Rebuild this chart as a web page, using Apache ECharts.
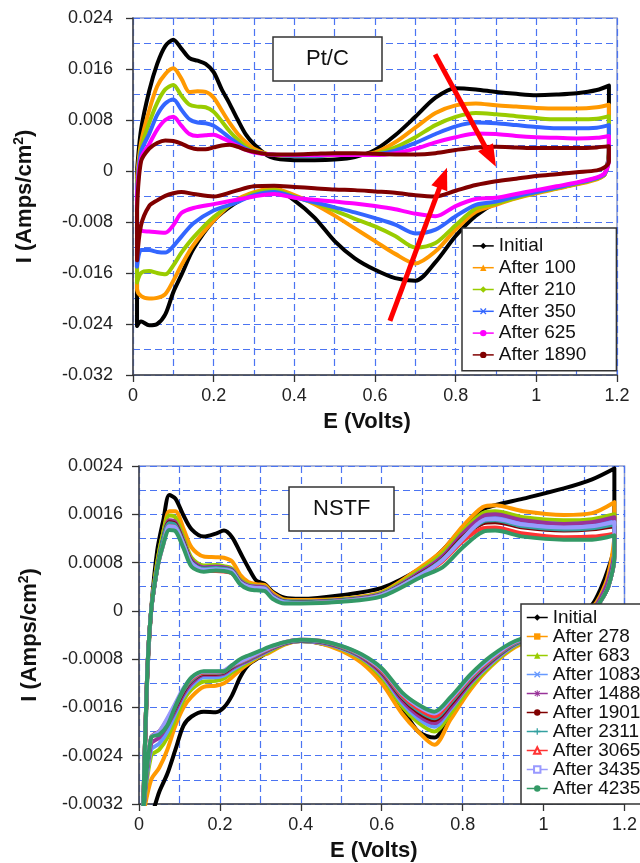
<!DOCTYPE html>
<html><head><meta charset="utf-8">
<script src="https://cdn.jsdelivr.net/npm/echarts@6/dist/echarts.min.js"></script>
<style>html,body{margin:0;padding:0;background:#fff}#c{width:640px;height:863px}</style>
</head><body><div id="c"></div>
<script>
// ---------- Pt/C (top) ----------
const ptE_up = [0.01,0.02,0.04,0.06,0.08,0.1,0.12,0.14,0.16,0.18,0.2,0.22,0.24,0.26,0.28,0.3,0.34,0.4,0.45,0.5,0.55,0.6,0.65,0.7,0.75,0.8,0.85,0.9,0.95,1.0,1.05,1.1,1.15,1.18];
const ptE_dn = [1.18,1.17,1.15,1.1,1.05,1.0,0.95,0.9,0.85,0.8,0.75,0.7,0.65,0.6,0.55,0.5,0.45,0.4,0.35,0.3,0.25,0.2,0.15,0.12,0.1,0.08,0.06,0.04,0.02,0.01];
const ptNames = ["Initial","After 100","After 210","After 350","After 625","After 1890"];
const ptInitialUp = [0.0,0.0065,0.0125,0.0168,0.0196,0.0206,0.0192,0.0177,0.0173,0.0168,0.0155,0.0128,0.0105,0.008,0.0057,0.0042,0.0022,0.0017,0.0017,0.0018,0.0022,0.0033,0.0056,0.0085,0.0115,0.013,0.0128,0.0124,0.0121,0.0119,0.012,0.0122,0.0127,0.0134];
const ptInitialDn = [0.004,-0.0005,-0.0012,-0.002,-0.0027,-0.0033,-0.004,-0.005,-0.007,-0.0102,-0.0143,-0.0172,-0.0168,-0.0155,-0.0137,-0.011,-0.0073,-0.0046,-0.0027,-0.0035,-0.0052,-0.0078,-0.0122,-0.0163,-0.019,-0.0225,-0.024,-0.0242,-0.0236,-0.0243];
const ptA100Up = [-0.001,0.0045,0.0095,0.0133,0.0152,0.0161,0.0145,0.0124,0.0125,0.0124,0.0115,0.0095,0.0075,0.0058,0.0045,0.0035,0.0026,0.0024,0.0024,0.0025,0.0025,0.0029,0.0045,0.0068,0.0091,0.0103,0.0106,0.0103,0.0101,0.0099,0.0098,0.0098,0.01,0.0104];
const ptA100Dn = [0.003,-0.0005,-0.0013,-0.0021,-0.0028,-0.0035,-0.0043,-0.0053,-0.0064,-0.0092,-0.0126,-0.0145,-0.013,-0.011,-0.009,-0.007,-0.0052,-0.0038,-0.0028,-0.0033,-0.0048,-0.0078,-0.0116,-0.0148,-0.0172,-0.0193,-0.0199,-0.02,-0.0196,-0.0185];
const ptA210Up = [-0.002,0.0035,0.0075,0.0107,0.0128,0.0135,0.0118,0.0104,0.0101,0.01,0.0093,0.0078,0.0062,0.0049,0.0038,0.0031,0.0026,0.0024,0.0024,0.0025,0.0025,0.0027,0.0037,0.0053,0.0072,0.0085,0.0091,0.0089,0.0086,0.0083,0.0081,0.0081,0.0082,0.0086];
const ptA210Dn = [0.003,-0.0004,-0.0012,-0.002,-0.0027,-0.0034,-0.0042,-0.0051,-0.0059,-0.0085,-0.0113,-0.012,-0.0102,-0.0087,-0.0075,-0.0062,-0.005,-0.004,-0.003,-0.0035,-0.005,-0.0072,-0.0104,-0.0128,-0.0148,-0.0162,-0.016,-0.0157,-0.016,-0.0175];
const ptA350Up = [-0.003,0.003,0.0058,0.0088,0.0106,0.0112,0.0096,0.0081,0.0076,0.0075,0.0071,0.0062,0.0052,0.0043,0.0035,0.003,0.0026,0.0024,0.0024,0.0025,0.0025,0.0026,0.0032,0.0044,0.0058,0.007,0.0076,0.0075,0.0072,0.0069,0.0067,0.0067,0.0068,0.0072];
const ptA350Dn = [0.0025,-0.0004,-0.0011,-0.0019,-0.0026,-0.0033,-0.004,-0.0048,-0.0053,-0.0071,-0.0092,-0.0098,-0.0084,-0.0074,-0.0065,-0.0057,-0.0049,-0.0041,-0.0033,-0.0038,-0.0051,-0.0062,-0.0082,-0.0103,-0.0118,-0.0128,-0.0127,-0.0124,-0.0124,-0.015];
const ptA625Up = [-0.004,0.002,0.0042,0.0065,0.008,0.0085,0.0071,0.0058,0.0055,0.0056,0.0057,0.0052,0.0046,0.0039,0.0033,0.0029,0.0026,0.0025,0.0025,0.0025,0.0025,0.0025,0.0028,0.0035,0.0045,0.0053,0.0059,0.0058,0.0055,0.0053,0.0052,0.0051,0.0052,0.0055];
const ptA625Dn = [0.002,-0.0003,-0.001,-0.0018,-0.0024,-0.003,-0.0036,-0.0042,-0.0044,-0.0055,-0.0071,-0.0067,-0.006,-0.0055,-0.0051,-0.0048,-0.0045,-0.0042,-0.0036,-0.004,-0.0046,-0.0052,-0.0058,-0.0066,-0.0085,-0.0097,-0.0096,-0.0095,-0.0093,-0.008];
const ptA1890Up = [-0.006,0.0015,0.0035,0.0044,0.0048,0.0047,0.0043,0.0037,0.0034,0.0034,0.0037,0.004,0.0041,0.0038,0.0033,0.003,0.0026,0.0026,0.0027,0.0028,0.0028,0.0027,0.0026,0.0026,0.0028,0.0033,0.0037,0.0038,0.0037,0.0036,0.0036,0.0036,0.0037,0.0039];
const ptA1890Dn = [0.0015,0.0006,0.0001,-0.0002,-0.0005,-0.0008,-0.0012,-0.0016,-0.0022,-0.0031,-0.004,-0.0038,-0.0034,-0.0032,-0.003,-0.0029,-0.0027,-0.0025,-0.0023,-0.0024,-0.0032,-0.004,-0.0036,-0.0033,-0.0035,-0.0039,-0.0046,-0.0055,-0.0085,-0.014];

// ---------- NSTF (bottom) ----------
const nsE_up = [0.01,0.02,0.03,0.045,0.06,0.075,0.09,0.11,0.13,0.16,0.19,0.21,0.23,0.25,0.27,0.29,0.31,0.33,0.36,0.4,0.5,0.6,0.7,0.75,0.8,0.85,0.88,0.95,1.05,1.12,1.175];
const nsE_dn = [1.175,1.16,1.14,1.12,1.08,1.0,0.93,0.87,0.82,0.77,0.73,0.69,0.65,0.6,0.55,0.5,0.45,0.4,0.36,0.32,0.3,0.27,0.25,0.23,0.21,0.19,0.16,0.13,0.11,0.09,0.07,0.05,0.03];
const nsNames = ["Initial ","After 278","After 683","After 1083","After 1488","After 1901","After 2311","After 3065","After 3435","After 4235"];
const nsInitialUp = [-0.0036,-0.0012,0.0,0.001,0.0015,0.00192,0.00186,0.00158,0.00135,0.00123,0.00128,0.00133,0.00122,0.00097,0.00072,0.0005,0.00045,0.00032,0.00022,0.0002,0.00026,0.00038,0.00072,0.001,0.00138,0.00168,0.00175,0.00186,0.00203,0.00218,0.00236];
const nsInitialDn = [0.0011,0.0007,0.00035,0.0001,-0.00015,-0.00035,-0.00055,-0.0008,-0.0012,-0.0017,-0.0021,-0.002,-0.0016,-0.0011,-0.00082,-0.00063,-0.00054,-0.0005,-0.00054,-0.00068,-0.00076,-0.0009,-0.0011,-0.0014,-0.0016,-0.00168,-0.00167,-0.00175,-0.0019,-0.0023,-0.0027,-0.003,-0.0034];
const nsA278Up = [-0.0034,-0.0011,0.0,0.0008,0.0013,0.00165,0.00165,0.00136,0.00105,0.0009,0.00089,0.00088,0.00082,0.0006,0.00048,0.00044,0.00043,0.0003,0.00019,0.00018,0.0002,0.00031,0.00074,0.001,0.0014,0.00172,0.00175,0.00165,0.00159,0.00162,0.0018];
const nsA278Dn = [0.0013,0.0006,0.00025,0.00005,-0.00018,-0.0004,-0.0006,-0.00092,-0.0013,-0.0018,-0.00222,-0.002,-0.0017,-0.0012,-0.00086,-0.00066,-0.00054,-0.0005,-0.00056,-0.0007,-0.00075,-0.00088,-0.00098,-0.0011,-0.0012,-0.00124,-0.00126,-0.00142,-0.0016,-0.0019,-0.0023,-0.0026,-0.0028];
const nsA683Up = [-0.0034,-0.0011,0.0,0.0008,0.0013,0.00158,0.00155,0.00122,0.00088,0.00075,0.00076,0.00074,0.0007,0.00052,0.00044,0.00041,0.0004,0.00027,0.00017,0.00016,0.00019,0.0003,0.0007,0.00095,0.00132,0.00162,0.00165,0.00155,0.0015,0.00152,0.0016];
const nsA683Dn = [0.001,0.0005,0.0002,0.0,-0.0002,-0.0004,-0.00058,-0.0009,-0.00125,-0.0017,-0.002,-0.00185,-0.00158,-0.0011,-0.0008,-0.00063,-0.00053,-0.0005,-0.00055,-0.00068,-0.00074,-0.00085,-0.00093,-0.00102,-0.00112,-0.00116,-0.00117,-0.0013,-0.00148,-0.0018,-0.0021,-0.0023,-0.0024];
const nsA1083Up = [-0.0034,-0.0011,0.0,0.0007,0.0012,0.00148,0.00145,0.00115,0.00083,0.00072,0.00073,0.00072,0.00068,0.0005,0.00042,0.0004,0.00039,0.00026,0.00016,0.00015,0.00018,0.00028,0.00066,0.0009,0.00126,0.00155,0.00157,0.00148,0.00144,0.00146,0.00152];
const nsA1083Dn = [0.001,0.0005,0.0002,0.0,-0.0002,-0.0004,-0.00056,-0.00087,-0.0012,-0.00163,-0.00192,-0.00178,-0.00152,-0.00106,-0.00078,-0.00062,-0.00053,-0.0005,-0.00054,-0.00066,-0.00073,-0.00083,-0.0009,-0.00098,-0.00107,-0.0011,-0.0011,-0.00124,-0.00142,-0.0017,-0.002,-0.0022,-0.0023];
const nsA1488Up = [-0.0034,-0.0011,0.0,0.0007,0.0012,0.0015,0.00147,0.00116,0.00084,0.00072,0.00073,0.00072,0.00068,0.0005,0.00042,0.0004,0.00039,0.00026,0.00016,0.00015,0.00018,0.00028,0.00066,0.0009,0.00128,0.00157,0.0016,0.0015,0.00144,0.00147,0.00155];
const nsA1488Dn = [0.001,0.0005,0.0002,0.0,-0.0002,-0.0004,-0.00055,-0.00085,-0.00118,-0.0016,-0.00186,-0.00173,-0.00148,-0.00104,-0.00077,-0.00061,-0.00052,-0.0005,-0.00054,-0.00065,-0.00072,-0.00082,-0.00088,-0.00095,-0.00104,-0.00106,-0.00106,-0.0012,-0.00138,-0.00165,-0.0019,-0.0021,-0.0022];
const nsA1901Up = [-0.0034,-0.0011,0.0,0.0007,0.0012,0.00147,0.00144,0.00113,0.00081,0.0007,0.00071,0.0007,0.00066,0.00048,0.0004,0.00038,0.00037,0.00024,0.00015,0.00014,0.00017,0.00027,0.00063,0.00086,0.00122,0.00145,0.00147,0.00138,0.00133,0.00135,0.0014];
const nsA1901Dn = [0.0009,0.0004,0.00015,-0.00002,-0.0002,-0.0004,-0.00054,-0.00083,-0.00115,-0.00155,-0.00181,-0.00168,-0.00144,-0.00101,-0.00075,-0.0006,-0.00051,-0.00049,-0.00053,-0.00064,-0.0007,-0.0008,-0.00086,-0.00093,-0.00102,-0.00104,-0.00104,-0.00116,-0.00134,-0.0016,-0.00185,-0.002,-0.0021];
const nsA2311Up = [-0.0034,-0.0011,0.0,0.0007,0.0012,0.00145,0.00142,0.00112,0.0008,0.0007,0.00071,0.0007,0.00066,0.00048,0.0004,0.00038,0.00037,0.00024,0.00015,0.00014,0.00017,0.00027,0.00062,0.00085,0.0012,0.00148,0.0015,0.0014,0.00135,0.00137,0.00143];
const nsA2311Dn = [0.0009,0.0004,0.00015,-0.00002,-0.0002,-0.0004,-0.00054,-0.00082,-0.00113,-0.00152,-0.00178,-0.00165,-0.00142,-0.001,-0.00075,-0.0006,-0.00051,-0.00049,-0.00053,-0.00064,-0.0007,-0.0008,-0.00086,-0.00092,-0.00101,-0.00103,-0.00103,-0.00115,-0.00132,-0.00158,-0.00183,-0.002,-0.0021];
const nsA3065Up = [-0.0034,-0.0011,0.0,0.0007,0.0011,0.0014,0.00138,0.00108,0.00076,0.00066,0.00066,0.00065,0.00062,0.00046,0.00038,0.00036,0.00035,0.00022,0.00013,0.00013,0.00016,0.00026,0.0006,0.00082,0.00115,0.00137,0.00138,0.00128,0.00122,0.00123,0.00128];
const nsA3065Dn = [0.0009,0.0004,0.00015,-0.00002,-0.0002,-0.00038,-0.00052,-0.0008,-0.0011,-0.00149,-0.00175,-0.00162,-0.0014,-0.00099,-0.00074,-0.00059,-0.0005,-0.00048,-0.00052,-0.00063,-0.00069,-0.00079,-0.00085,-0.00091,-0.001,-0.00102,-0.00102,-0.00113,-0.0013,-0.00155,-0.0018,-0.002,-0.0021];
const nsA3435Up = [-0.0034,-0.0011,0.0,0.0007,0.0011,0.0014,0.00138,0.0011,0.00079,0.00068,0.00069,0.00068,0.00065,0.00047,0.0004,0.00038,0.00037,0.00023,0.00014,0.00013,0.00016,0.00026,0.00061,0.00084,0.00119,0.0015,0.00152,0.00143,0.00138,0.0014,0.00147];
const nsA3435Dn = [0.0009,0.0004,0.00015,-0.00002,-0.0002,-0.00038,-0.00051,-0.00078,-0.00108,-0.00146,-0.0017,-0.00158,-0.00137,-0.00097,-0.00073,-0.00058,-0.0005,-0.00048,-0.00052,-0.00062,-0.00068,-0.00078,-0.00084,-0.0009,-0.00099,-0.00101,-0.00101,-0.00111,-0.00128,-0.00153,-0.00178,-0.002,-0.0021];
const nsA4235Up = [-0.0034,-0.0011,0.0,0.0007,0.0011,0.00134,0.00132,0.00104,0.00073,0.00065,0.00067,0.00066,0.00062,0.00044,0.00036,0.00034,0.00033,0.0002,0.00012,0.00012,0.00015,0.00024,0.00057,0.00072,0.00105,0.00131,0.00133,0.00123,0.00118,0.00118,0.00125];
const nsA4235Dn = [0.0009,0.0004,0.00015,-0.00002,-0.0002,-0.00037,-0.0005,-0.00075,-0.00105,-0.00143,-0.00167,-0.00155,-0.00135,-0.00095,-0.00072,-0.00058,-0.0005,-0.00048,-0.00052,-0.0006,-0.00066,-0.00074,-0.0008,-0.0009,-0.001,-0.001,-0.001,-0.0011,-0.0013,-0.00158,-0.0019,-0.00205,-0.0021];

// red arrow annotations (data coords, tail -> head)
const ptArrows = [[[0.749,0.0183],[0.887,0.0022]],[[0.637,-0.0235],[0.769,-0.0011]]];

// ---------- build ----------
const FONT = "'Liberation Sans', Arial, sans-serif";
const XMARK = 'path://M0,1.4L1.4,0L5,3.6L8.6,0L10,1.4L6.4,5L10,8.6L8.6,10L5,6.4L1.4,10L0,8.6L3.6,5Z';
const PLUS = 'path://M4,0H6V4H10V6H6V10H4V6H0V4H4Z';
const STAR = 'path://M4.2,0H5.8V3.1L8.3,0.6L9.4,1.7L6.9,4.2H10V5.8H6.9L9.4,8.3L8.3,9.4L5.8,6.9V10H4.2V6.9L1.7,9.4L0.6,8.3L3.1,5.8H0V4.2H3.1L0.6,1.7L1.7,0.6L4.2,3.1Z';

function loop(eu, ed, up, dn) {
  const pts = up.map((v, i) => [eu[i], v]).concat(dn.map((v, i) => [ed[i], v]));
  pts.push([eu[0], up[0]]);
  return pts;
}
const ptUp = [ptInitialUp, ptA100Up, ptA210Up, ptA350Up, ptA625Up, ptA1890Up];
const ptDn = [ptInitialDn, ptA100Dn, ptA210Dn, ptA350Dn, ptA625Dn, ptA1890Dn];
const ptColors = ['#000000', '#FF9900', '#99CC00', '#3366FF', '#FF00FF', '#800000'];
const ptSymbols = ['diamond', 'triangle', 'diamond', XMARK, 'circle', 'circle'];

const nsUp = [nsInitialUp, nsA278Up, nsA683Up, nsA1083Up, nsA1488Up, nsA1901Up, nsA2311Up, nsA3065Up, nsA3435Up, nsA4235Up];
const nsDn = [nsInitialDn, nsA278Dn, nsA683Dn, nsA1083Dn, nsA1488Dn, nsA1901Dn, nsA2311Dn, nsA3065Dn, nsA3435Dn, nsA4235Dn];
const nsColors = ['#000000', '#FF9900', '#99CC00', '#6699FF', '#993399', '#800000', '#33A0A0', '#FF3333', '#9999FF', '#339966'];
const nsSymbols = ['diamond', 'rect', 'triangle', XMARK, STAR, 'circle', PLUS, 'emptyTriangle', 'emptyRect', 'circle'];

const series = [];
ptNames.forEach((n, i) => series.push({
  type: 'line', name: n, xAxisIndex: 0, yAxisIndex: 0,
  data: loop(ptE_up, ptE_dn, ptUp[i], ptDn[i]),
  showSymbol: false, symbol: ptSymbols[i], symbolSize: 6, smooth: 0.3,
  lineStyle: { color: ptColors[i], width: 4, join: 'round' }, itemStyle: { color: ptColors[i] },
  animation: false, silent: true
}));
nsNames.forEach((n, i) => series.push({
  type: 'line', name: n, xAxisIndex: 1, yAxisIndex: 1,
  data: loop(nsE_up, nsE_dn, nsUp[i], nsDn[i]),
  showSymbol: false, symbol: nsSymbols[i], symbolSize: 6, smooth: 0.3,
  lineStyle: { color: nsColors[i], width: 4, join: 'round' }, itemStyle: { color: nsColors[i] },
  animation: false, silent: true
}));
series.push({
  type: 'line', name: 'arrows', xAxisIndex: 0, yAxisIndex: 0, data: [], z: 10,
  animation: false, silent: true,
  markLine: {
    silent: true, animation: false, symbol: ['none', 'triangle'], symbolSize: [17, 22],
    label: { show: false },
    lineStyle: { color: '#FF0000', width: 5, type: 'solid' },
    data: ptArrows.map(a => [{ coord: a[0] }, { coord: a[1] }])
  }
});

const gridLine = { show: true, lineStyle: { color: '#4B74F2', width: 1.2, type: [7, 4] } };
function xAx(gi) {
  return {
    type: 'value', gridIndex: gi, min: 0, max: 1.2, interval: 0.2,
    name: 'E (Volts)', nameLocation: 'middle', nameGap: 36,
    nameTextStyle: { fontFamily: FONT, fontSize: 22, fontWeight: 'bold', color: '#111', padding: [0, 16, 0, 0] },
    axisLine: { show: true, onZero: false, lineStyle: { color: '#444', width: 1.5 } },
    axisTick: { show: true, length: 7, lineStyle: { color: '#333', width: 1.3 } },
    axisLabel: { fontFamily: FONT, fontSize: 18, color: '#222', margin: 12 },
    splitLine: gridLine, minorTick: { show: false, splitNumber: 2 }, minorSplitLine: gridLine
  };
}
function yAx(gi, min, max, iv, gap, margin) {
  return {
    type: 'value', gridIndex: gi, min: min, max: max, interval: iv,
    name: '{b|I (Amps/cm}{s|2}{b|)}', nameLocation: 'middle', nameGap: gap, nameRotate: 90,
    nameTextStyle: { rich: {
      b: { fontFamily: FONT, fontSize: 22, fontWeight: 'bold', color: '#111', lineHeight: 26 },
      s: { fontFamily: FONT, fontSize: 14, fontWeight: 'bold', color: '#111', verticalAlign: 'top', lineHeight: 26 }
    } },
    axisLine: { show: true, onZero: false, lineStyle: { color: '#444', width: 1.5 } },
    axisTick: { show: true, length: 7, lineStyle: { color: '#333', width: 1.3 } },
    axisLabel: { fontFamily: FONT, fontSize: 18, color: '#222', margin: margin },
    splitLine: gridLine, minorTick: { show: false, splitNumber: 2 }, minorSplitLine: gridLine
  };
}
const legendBase = {
  orient: 'vertical', selectedMode: false, itemWidth: 21, itemHeight: 8, itemGap: 0,
  backgroundColor: '#fff', borderColor: '#333', borderWidth: 1.5, borderRadius: 0,
  lineStyle: { width: 1.5 }, z: 20
};
const option = {
  backgroundColor: '#fff', animation: false,
  grid: [
    { left: 133, top: 18, width: 484, height: 357, show: true, borderColor: '#8E9CCB', borderWidth: 1.5, backgroundColor: 'transparent' },
    { left: 139, top: 466, width: 486, height: 338, show: true, borderColor: '#8E9CCB', borderWidth: 1.5, backgroundColor: 'transparent' }
  ],
  xAxis: [xAx(0), xAx(1)],
  yAxis: [yAx(0, -0.032, 0.024, 0.008, 95, 20), yAx(1, -0.0032, 0.0024, 0.0008, 96, 16)],
  title: [
    { text: 'Pt/C', left: 273, top: 37, padding: [11, 33], borderColor: '#333', borderWidth: 1.5, backgroundColor: '#fff',
      textStyle: { fontFamily: FONT, fontSize: 22, fontWeight: 'normal', color: '#111', lineHeight: 22 } },
    { text: 'NSTF', left: 289, top: 487, padding: [11, 24], borderColor: '#333', borderWidth: 1.5, backgroundColor: '#fff',
      textStyle: { fontFamily: FONT, fontSize: 22, fontWeight: 'normal', color: '#111', lineHeight: 22 } }
  ],
  legend: [
    Object.assign({}, legendBase, { data: ptNames, left: 462, top: 228, padding: [7, 30, 5, 10],
      textStyle: { fontFamily: FONT, fontSize: 19, color: '#111', lineHeight: 21.8 } }),
    Object.assign({}, legendBase, { data: nsNames, left: 521, top: 604, padding: [4, 12, 6, 5],
      textStyle: { fontFamily: FONT, fontSize: 19, color: '#111', lineHeight: 18.2 } })
  ],
  series: series
};
const chart = echarts.init(document.getElementById('c'), null, { renderer: 'canvas' });
chart.setOption(option);
</script>
</body></html>
